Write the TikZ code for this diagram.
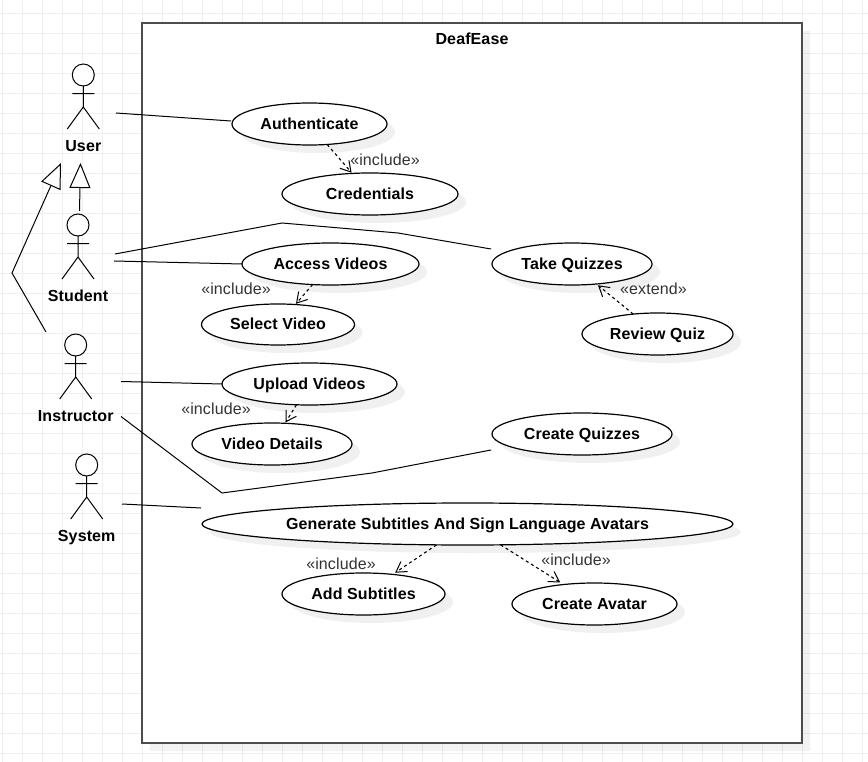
\documentclass[tikz,border=0pt]{standalone}
\usepackage{fontspec}
\setmainfont{Liberation Sans}[LetterSpace=0.7]
\usetikzlibrary{positioning,shapes.geometric,shadows,arrows.meta}
\definecolor{gridline}{HTML}{EFEFEF}
\definecolor{framecol}{HTML}{4D4D4D}
\definecolor{stereocol}{HTML}{333333}
\tikzset{
    usecase/.style={ellipse,draw,fill=white,line width=1.2pt,inner sep=0pt,outer sep=0pt,
        font=\fontsize{16}{19}\selectfont\bfseries,text height=10.5pt,text depth=0pt,
        drop shadow={shadow xshift=8pt,shadow yshift=-8pt,opacity=0.06,fill=black}},
    actorname/.style={font=\fontsize{16}{19}\selectfont\bfseries,inner sep=0pt,text height=13pt,text depth=0pt},
    stereo/.style={font=\fontsize{16}{19}\selectfont,text=stereocol,inner sep=0pt,text height=11pt,text depth=0pt},
    assoc/.style={line width=1pt},
    dep/.style={line width=1.1pt,dash pattern=on 3pt off 3pt,shorten >=1pt,
        -{Straight Barb[length=10pt,width=12pt,line width=1pt]}},
    inherit/.style={line width=1pt,-{Triangle[open,length=25pt,width=21pt,fill=white,line width=1pt]}},
    stick/.pic={
        \draw[line width=1pt,fill=white] (0,-18) circle (11);
        \draw[line width=1pt] (0,-7) -- (0,14) (-16,36) -- (0,14) -- (16,36) (-11,0.7) -- (11,0.7);
    }
}
\begin{document}
\begin{tikzpicture}[x=1pt,y=-1pt]
    \useasboundingbox (0,0) rectangle (868,762);
    % grid
    \foreach \i in {0,...,43} {
        \draw[gridline,line width=1pt] (2.5+20*\i,0) -- (2.5+20*\i,762);
    }
    \foreach \i in {0,...,37} {
        \draw[gridline,line width=1pt] (0,13.5+20*\i) -- (868,13.5+20*\i);
    }
    % system boundary
    \node[draw=framecol,fill=white,line width=1.6pt,rectangle,inner sep=0pt,outer sep=0pt,
        minimum width=660pt,minimum height=720pt,
        drop shadow={shadow xshift=8pt,shadow yshift=-8pt,opacity=0.05,fill=black}] (boundary) at (472,383) {};
    \node[actorname] (title) at (472,38) {DeafEase};
    % actors
    \pic at (83.3,93) {stick};
    \pic at (78,243) {stick};
    \pic at (75.7,363) {stick};
    \pic at (86.7,483) {stick};
    \node[actorname] (user) at (83.3,145) {User};
    \node[actorname] (student) at (78,295) {Student};
    \node[actorname] (instructor) at (75.7,415) {Instructor};
    \node[actorname] (system) at (86.7,535) {System};
    % use cases
    \node[usecase,minimum width=155pt,minimum height=42pt] (auth) at (309.5,124) {Authenticate};
    \node[usecase,minimum width=176pt,minimum height=42pt] (cred) at (370,194) {Credentials};
    \node[usecase,minimum width=177pt,minimum height=42pt] (access) at (330.5,264) {Access Videos};
    \node[usecase,minimum width=153pt,minimum height=41pt] (select) at (278,324.5) {Select Video};
    \node[usecase,minimum width=175pt,minimum height=42pt] (upload) at (309.5,384) {Upload Videos};
    \node[usecase,minimum width=160pt,minimum height=42pt] (details) at (272,444) {Video Details};
    \node[usecase,minimum width=160pt,minimum height=42pt] (take) at (572,264) {Take Quizzes};
    \node[usecase,minimum width=151pt,minimum height=42pt] (review) at (657.5,334) {Review Quiz};
    \node[usecase,minimum width=180pt,minimum height=42pt] (create) at (582,434) {Create Quizzes};
    \node[usecase,minimum width=531pt,minimum height=42pt] (generate) at (467.5,524) {Generate Subtitles And Sign Language Avatars};
    \node[usecase,minimum width=163pt,minimum height=42pt] (addsub) at (363.5,594) {Add Subtitles};
    \node[usecase,minimum width=165pt,minimum height=42pt] (avatar) at (594.5,604) {Create Avatar};
    % free ends
    \coordinate (userout) at (116,113);
    \coordinate (studentout) at (115,254);
    \coordinate (studentout2) at (114,261);
    \coordinate (instrout) at (121,381.5);
    \coordinate (instrout2) at (121,416.5);
    \coordinate (systemout) at (122,504);
    \coordinate (studenttop) at (79.5,211);
    \coordinate (usertip) at (80.5,163);
    \coordinate (instrtop) at (46,332);
    \coordinate (instrbend) at (12,273);
    \coordinate (usertip2) at (61,163);
    % associations
    \draw[assoc] (userout) -- ([xshift=-1pt,yshift=3pt]auth.west);
    \draw[assoc] (studentout) -- (282,223) -- (398,233) -- ([xshift=-1pt,yshift=15pt]take.west);
    \draw[assoc] (studentout2) -- (access.west);
    \draw[assoc] (instrout) -- (upload.west);
    \draw[assoc] (instrout2) -- (222,493) -- (372,473) -- ([xshift=-1pt,yshift=-16pt]create.west);
    \draw[assoc] (systemout) -- ([xshift=-1pt,yshift=16pt]generate.west);
    % generalisation
    \draw[inherit] (studenttop) -- (usertip);
    \draw[inherit] (instrtop) -- (instrbend) -- (usertip2);
    % include, extend
    \draw[dep] (auth) -- (cred);
    \draw[dep] (access) -- (select);
    \draw[dep] (upload) -- (details);
    \draw[dep,shorten >=2pt] (review) -- (take);
    \draw[dep,shorten >=3pt] (generate) -- (addsub);
    \draw[dep,shorten >=4pt] (generate) -- (avatar);
    \node[stereo] (inc1) at (385,160) {«include»};
    \node[stereo] (inc2) at (236,289) {«include»};
    \node[stereo] (inc3) at (216,409) {«include»};
    \node[stereo] (ext1) at (653.5,289) {«extend»};
    \node[stereo] (inc4) at (341,564) {«include»};
    \node[stereo] (inc5) at (576,560) {«include»};
\end{tikzpicture}
\end{document}
